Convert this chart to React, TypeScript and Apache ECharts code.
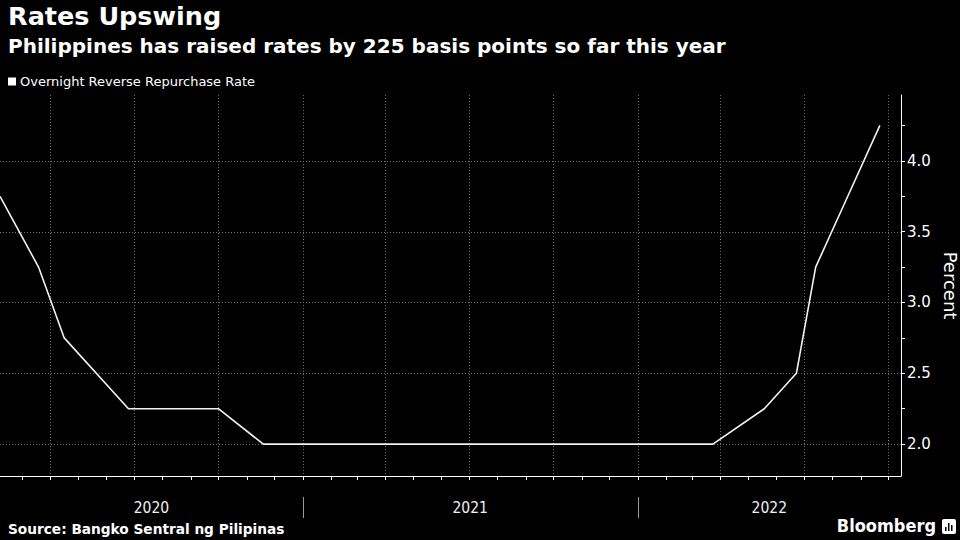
import React, { useEffect, useRef } from 'react';
import * as echarts from 'echarts';

// ---- data ----
const seriesName = 'Overnight Reverse Repurchase Rate';
const rateDates = [
  '2020-02-06', '2020-03-19', '2020-04-16', '2020-06-25', '2020-10-01', '2020-11-19',
  '2022-03-24', '2022-05-19', '2022-06-23', '2022-07-14', '2022-08-18', '2022-09-22',
];
const rateValues = [3.75, 3.25, 2.75, 2.25, 2.25, 2.0, 2.0, 2.25, 2.5, 3.25, 3.75, 4.25];

const xStart = '2020-02-06';
const xEnd = '2022-10-15';
const yMin = 1.775;
const yMax = 4.465;
const yLabelValues = [2.0, 2.5, 3.0, 3.5, 4.0];
const yTickValues = [2.0, 2.25, 2.5, 2.75, 3.0, 3.25, 3.5, 3.75, 4.0, 4.25];
const quarterLines = [
  '2020-04-01', '2020-07-01', '2020-10-01', '2021-01-01', '2021-04-01', '2021-07-01',
  '2021-10-01', '2022-01-01', '2022-04-01', '2022-07-01', '2022-10-01',
];
const monthTicks = [
  '2020-03-01', '2020-04-01', '2020-05-01', '2020-06-01', '2020-07-01', '2020-08-01',
  '2020-09-01', '2020-10-01', '2020-11-01', '2020-12-01', '2021-01-01', '2021-02-01',
  '2021-03-01', '2021-04-01', '2021-05-01', '2021-06-01', '2021-07-01', '2021-08-01',
  '2021-09-01', '2021-10-01', '2021-11-01', '2021-12-01', '2022-01-01', '2022-02-01',
  '2022-03-01', '2022-04-01', '2022-05-01', '2022-06-01', '2022-07-01', '2022-08-01',
  '2022-09-01', '2022-10-01',
];
const yearLabels = ['2020', '2021', '2022'];
const yearStarts = ['2020-01-01', '2021-01-01', '2022-01-01'];
const yearEnds = ['2021-01-01', '2022-01-01', '2023-01-01'];
const yearBreaks = ['2021-01-01', '2022-01-01'];

const titleText = 'Rates Upswing';
const subtitleText = 'Philippines has raised rates by 225 basis points so far this year';
const sourceText = 'Source: Bangko Sentral ng Pilipinas';

function ts(s: string): number {
  const [y, m, d] = s.split('-').map(Number);
  return new Date(y, m - 1, d).getTime();
}

const GRID_COLOR = '#6e6e6e';
const FONT = '"DejaVu Sans", sans-serif';

export default function App() {
  const ref = useRef<HTMLDivElement>(null);

  useEffect(() => {
    if (!ref.current) return;
    const chart = echarts.init(ref.current, undefined, { renderer: 'svg' });
    const xMin = ts(xStart);
    const xMax = ts(xEnd);

    const lineData = rateDates.map((d, i) => [ts(d), rateValues[i]]);
    const vGridData = quarterLines.map((d) => [ts(d), yMin]);
    const hGridData = yLabelValues.map((v) => [xMin, v]);
    const tickData = monthTicks.map((d) => [ts(d), yMin]);
    const breakData = yearBreaks.map((d) => [ts(d), yMin]);
    const yearLabelData = yearLabels.map((_, i) => {
      const a = Math.max(ts(yearStarts[i]), xMin);
      const b = Math.min(ts(yearEnds[i]), xMax);
      return [(a + b) / 2, yMin];
    });

    const px = (v: number) => Math.round(v) + 0.5;

    const option: any = {
      animation: false,
      backgroundColor: '#000',
      grid: { left: 0, right: 59, top: 95, bottom: 64, containLabel: false, outerBoundsMode: 'none' },
      legend: {
        data: [seriesName],
        left: 8,
        top: 75,
        padding: 0,
        itemWidth: 8,
        itemHeight: 8,
        itemGap: 4,
        icon: 'rect',
        textStyle: { color: '#fff', fontSize: 13, fontFamily: FONT, padding: [0, 0, 0, -1] },
        selectedMode: false,
      },
      xAxis: {
        type: 'time',
        min: xMin,
        max: xMax,
        axisLine: { show: true, lineStyle: { color: '#fff', width: 1 } },
        axisTick: { show: false },
        axisLabel: { show: false },
        splitLine: { show: false },
      },
      yAxis: {
        type: 'value',
        position: 'right',
        min: yMin,
        max: yMax,
        axisLine: { show: true, lineStyle: { color: '#fff', width: 1 } },
        axisTick: { show: true, length: 4, lineStyle: { color: '#fff' }, customValues: yTickValues },
        axisLabel: {
          show: true,
          color: '#fff',
          fontSize: 15,
          fontFamily: FONT,
          margin: 6,
          customValues: yLabelValues,
          formatter: (v: number) => v.toFixed(1),
        },
        splitLine: { show: false },
        name: 'Percent',
        nameLocation: 'middle',
        nameRotate: -90,
        nameGap: 40,
        nameTextStyle: { color: '#fff', fontSize: 18, fontFamily: FONT },
      },
      series: [
        {
          name: 'vgrid',
          type: 'custom',
          data: vGridData,
          z: 1,
          silent: true,
          renderItem: (params: any, api: any) => {
            const cs = params.coordSys;
            const c = api.coord([api.value(0), api.value(1)]);
            const x = px(c[0]);
            return {
              type: 'line',
              shape: { x1: x, y1: cs.y, x2: x, y2: cs.y + cs.height },
              style: { stroke: GRID_COLOR, lineWidth: 1, lineDash: [1, 2] },
            };
          },
        },
        {
          name: 'hgrid',
          type: 'custom',
          data: hGridData,
          z: 1,
          silent: true,
          renderItem: (params: any, api: any) => {
            const cs = params.coordSys;
            const c = api.coord([api.value(0), api.value(1)]);
            const y = px(c[1]);
            return {
              type: 'line',
              shape: { x1: cs.x, y1: y, x2: cs.x + cs.width, y2: y },
              style: { stroke: GRID_COLOR, lineWidth: 1, lineDash: [1, 2] },
            };
          },
        },
        {
          name: 'ticks',
          type: 'custom',
          data: tickData,
          z: 3,
          silent: true,
          renderItem: (params: any, api: any) => {
            const cs = params.coordSys;
            const c = api.coord([api.value(0), api.value(1)]);
            const x = px(c[0]);
            const yb = cs.y + cs.height;
            return {
              type: 'line',
              shape: { x1: x, y1: yb, x2: x, y2: yb + 4 },
              style: { stroke: '#fff', lineWidth: 1 },
            };
          },
        },
        {
          name: 'yearBreaks',
          type: 'custom',
          data: breakData,
          z: 3,
          silent: true,
          renderItem: (params: any, api: any) => {
            const cs = params.coordSys;
            const c = api.coord([api.value(0), api.value(1)]);
            const x = px(c[0]);
            const yb = cs.y + cs.height;
            return {
              type: 'line',
              shape: { x1: x, y1: yb + 21, x2: x, y2: yb + 42 },
              style: { stroke: '#9a9a9a', lineWidth: 1 },
            };
          },
        },
        {
          name: 'yearLabels',
          type: 'custom',
          data: yearLabelData,
          z: 3,
          silent: true,
          renderItem: (params: any, api: any) => {
            const cs = params.coordSys;
            const c = api.coord([api.value(0), api.value(1)]);
            const yb = cs.y + cs.height;
            return {
              type: 'text',
              x: c[0],
              y: yb + 32,
              style: {
                text: yearLabels[params.dataIndex],
                fill: '#f0f0f0',
                fontSize: 15.5,
                fontFamily: '"DejaVu Sans Condensed", "DejaVu Sans", sans-serif',
                align: 'center',
                verticalAlign: 'middle',
              },
            };
          },
        },
        {
          name: seriesName,
          type: 'line',
          data: lineData,
          z: 5,
          symbol: 'none',
          lineStyle: { color: '#f2f2f2', width: 1.6 },
          itemStyle: { color: '#fff' },
        },
      ],
      graphic: [
        {
          type: 'text',
          left: 8,
          top: 3,
          style: { text: titleText, fill: '#fff', fontSize: 25.5, fontWeight: 'bold', fontFamily: FONT },
        },
        {
          type: 'text',
          left: 8,
          top: 36,
          style: { text: subtitleText, fill: '#fff', fontSize: 20, fontWeight: 'bold', fontFamily: FONT },
        },
        {
          type: 'text',
          left: 8,
          top: 522,
          style: { text: sourceText, fill: '#fff', fontSize: 13.7, fontWeight: 'bold', fontFamily: FONT },
        },
        {
          type: 'text',
          right: 24,
          top: 516,
          style: {
            text: 'Bloomberg',
            fill: '#fff',
            fontSize: 18,
            fontWeight: 'bold',
            fontFamily: '"DejaVu Sans Condensed", "DejaVu Sans", sans-serif',
          },
        },
        {
          type: 'group',
          right: 4,
          top: 519,
          children: [
            { type: 'rect', shape: { x: 0, y: 0, width: 14, height: 15, r: 2 }, style: { fill: '#fff' } },
            { type: 'rect', shape: { x: 3, y: 8, width: 1.5, height: 4 }, style: { fill: '#000' } },
            { type: 'rect', shape: { x: 6, y: 4, width: 1.5, height: 8 }, style: { fill: '#000' } },
            { type: 'rect', shape: { x: 9, y: 6, width: 1.5, height: 6 }, style: { fill: '#000' } },
          ],
        },
      ],
    };

    chart.setOption(option);
    return () => chart.dispose();
  }, []);

  return (
    <div
      ref={ref}
      style={{ width: 960, height: 540, position: 'absolute', left: 0, top: 0, background: '#000' }}
    />
  );
}
